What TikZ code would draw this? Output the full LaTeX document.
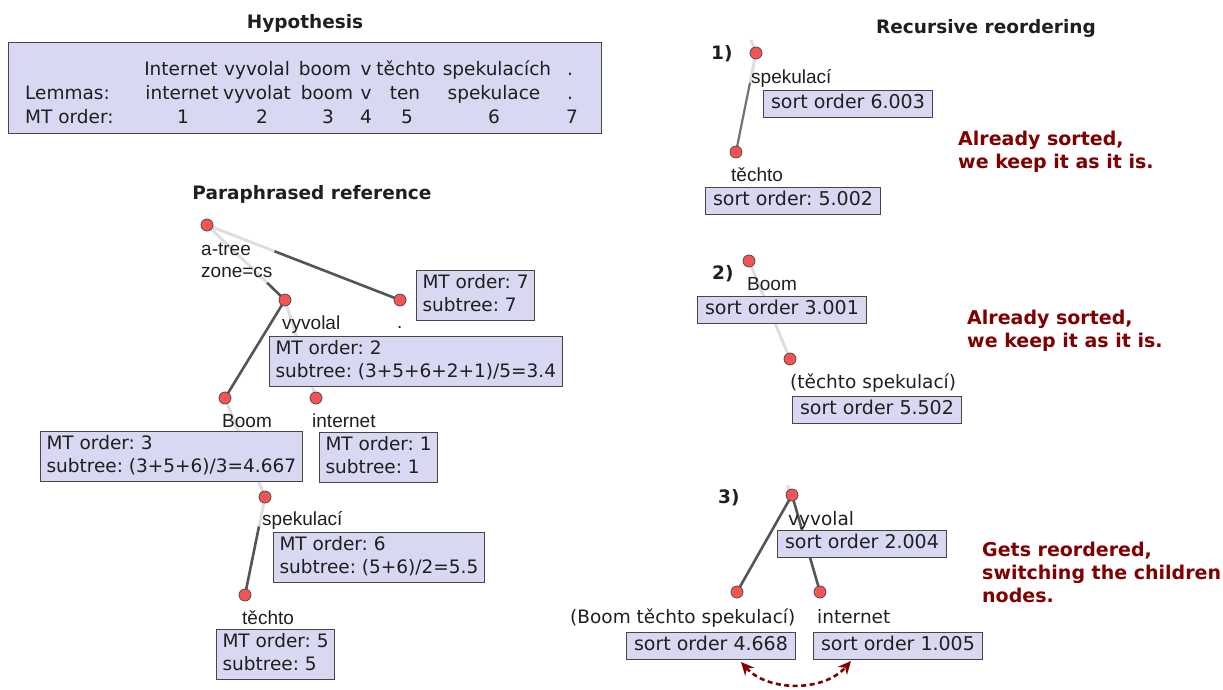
\documentclass[tikz,border=0pt]{standalone}
\usepackage{fontspec}
\setmainfont{DejaVu Sans}
\newfontfamily\arialf{Liberation Sans}
\usetikzlibrary{calc,arrows.meta}
\definecolor{boxfill}{RGB}{216,216,242}
\definecolor{boxline}{RGB}{70,70,70}
\definecolor{nodefill}{RGB}{246,84,84}
\definecolor{darkred}{RGB}{128,0,0}
\definecolor{edgedk}{RGB}{85,85,85}
\definecolor{edgelt}{RGB}{222,222,222}
\newcommand{\mysz}{\fontsize{18.5}{23}\selectfont}
\newcommand{\sortsz}{\fontsize{19}{23}\selectfont}
\newcommand{\lblsz}{\fontsize{19}{23}\selectfont}
\newcommand{\redsz}{\fontsize{19}{23}\selectfont}
\newcommand{\sst}{\rule[-4.5pt]{0pt}{18.5pt}}
\frenchspacing
\begin{document}
\begin{tikzpicture}[x=1pt,y=-1pt,
  every node/.style={inner sep=0pt, text=black!88},
  tnode/.style={circle, draw=black!70, line width=0.8pt, fill=nodefill, minimum size=12pt, inner sep=0pt},
  infobox/.style={draw=boxline, line width=1pt, fill=boxfill, inner xsep=6pt, inner ysep=4pt, align=left, anchor=north west, font=\mysz},
  sortbox/.style={infobox, inner xsep=7.5pt, font=\sortsz},
  lblL/.style={font=\arialf\lblsz, anchor=base west},
  lblR/.style={font=\mysz, anchor=base west},
  ttl/.style={font=\bfseries\mysz, anchor=base},
  steplbl/.style={font=\bfseries\mysz, anchor=base west},
  hyptxt/.style={font=\mysz, anchor=base},
  redtxt/.style={font=\bfseries\redsz, text=darkred, align=left, anchor=north west},
  elight/.style={draw=edgelt, line width=3pt},
  edark/.style={draw=edgedk, line width=2.6pt},
  emid/.style={draw=black!55, line width=2.2pt}
]
\useasboundingbox (0,0) rectangle (1223,689);

% ---------------- Hypothesis ----------------
\node[ttl] (thyp) at (305,28) {Hypothesis};
\node[draw=boxline, line width=1pt, fill=boxfill, minimum width=593pt, minimum height=91pt, anchor=north west] (hyp) at (8,42) {};
\node[hyptxt] (h1) at (181,75) {Internet};
\node[hyptxt] (h2) at (257,75) {vyvolal};
\node[hyptxt] (h3) at (325,75) {boom};
\node[hyptxt] (h4) at (366,75) {v};
\node[hyptxt] (h5) at (406,75) {těchto};
\node[hyptxt] (h6) at (497,75) {spekulacích};
\node[hyptxt] (h7) at (570,75) {.};
\node[hyptxt, anchor=base west] (l0) at (25,99) {Lemmas:};
\node[hyptxt] (l1) at (182,99) {internet};
\node[hyptxt] (l2) at (257,99) {vyvolat};
\node[hyptxt] (l3) at (327,99) {boom};
\node[hyptxt] (l4) at (366,99) {v};
\node[hyptxt] (l5) at (405,99) {ten};
\node[hyptxt] (l6) at (494,99) {spekulace};
\node[hyptxt] (l7) at (570,99) {.};
\node[hyptxt, anchor=base west] (m0) at (25,123) {MT order:};
\node[hyptxt] (m1) at (183,123) {1};
\node[hyptxt] (m2) at (262,123) {2};
\node[hyptxt] (m3) at (328,123) {3};
\node[hyptxt] (m4) at (366,123) {4};
\node[hyptxt] (m5) at (407,123) {5};
\node[hyptxt] (m6) at (494,123) {6};
\node[hyptxt] (m7) at (572,123) {7};

% ---------------- Paraphrased reference ----------------
\node[ttl] (tpar) at (312,199) {Paraphrased reference};

\coordinate (pr) at (207,225);
\coordinate (pdot) at (400,300);
\coordinate (pvyv) at (285,300);
\coordinate (pboom) at (225,398);
\coordinate (pint) at (316,398);
\coordinate (pspek) at (265,497);
\coordinate (ptech) at (245,595);

% edges
\draw[elight] (pr) -- ($(pr)!0.35!(pdot)$);
\draw[edark] ($(pr)!0.35!(pdot)$) -- (pdot);
\draw[elight] (pr) -- ($(pr)!0.77!(pvyv)$);
\draw[edark] ($(pr)!0.77!(pvyv)$) -- (pvyv);
\draw[edark] (pvyv) -- (pboom);
\draw[elight] (pvyv) -- (pint);
\draw[elight] (pboom) -- (pspek);
\draw[elight] (pspek) -- ($(pspek)!0.3!(ptech)$);
\draw[edark] ($(pspek)!0.3!(ptech)$) -- (ptech);

\node[tnode] (nr) at (pr) {};
\node[tnode] (ndot) at (pdot) {};
\node[tnode] (nvyv) at (pvyv) {};
\node[tnode] (nboom) at (pboom) {};
\node[tnode] (nint) at (pint) {};
\node[tnode] (nspek) at (pspek) {};
\node[tnode] (ntech) at (ptech) {};

\node[lblL] (la1) at (201,255) {a-tree};
\node[lblL] (la2) at (201,277) {zone=cs};
\node[lblL] (ldot) at (397,328) {.};
\node[lblL] (lvyv) at (282,329) {vyvolal};
\node[lblL] (lboom) at (222,427) {Boom};
\node[lblL] (lint) at (312,427) {internet};
\node[lblL] (lspek) at (262,525) {spekulací};
\node[lblL] (ltech) at (242,624) {těchto};

\node[infobox] (b7) at (416,270) {\sst MT order: 7\\\sst subtree: 7};
\node[infobox] (b2) at (269,336) {\sst MT order: 2\\\sst subtree: (3+5+6+2+1)/5=3.4};
\node[infobox] (b3) at (40,431) {\sst MT order: 3\\\sst subtree: (3+5+6)/3=4.667};
\node[infobox] (b1) at (319,432) {\sst MT order: 1\\\sst subtree: 1};
\node[infobox] (b6) at (273,532) {\sst MT order: 6\\\sst subtree: (5+6)/2=5.5};
\node[infobox] (b5) at (216,629) {\sst MT order: 5\\\sst subtree: 5};

% ---------------- Recursive reordering ----------------
\node[ttl] (trec) at (986,33) {Recursive reordering};

% step 1
\coordinate (q1a) at (756,53);
\coordinate (q1b) at (736,152);
\coordinate (q1s) at (751,40);
\draw[elight] (q1s) -- (q1a);
\draw[elight] (q1a) -- ($(q1a)!0.3!(q1b)$);
\draw[emid] ($(q1a)!0.3!(q1b)$) -- (q1b);
\node[tnode] (n1a) at (q1a) {};
\node[tnode] (n1b) at (q1b) {};
\node[steplbl] (st1) at (711,59) {1)};
\node[lblL] (l1a) at (751,83) {spekulací};
\node[lblL] (l1b) at (731,181) {těchto};
\node[sortbox] (s1a) at (763,90) {\sst sort order 6.003};
\node[sortbox] (s1b) at (705,187) {\sst sort order: 5.002};
\node[redtxt] (r1) at (958,131) {Already sorted,\\we keep it as it is.};

% step 2
\coordinate (q2a) at (749,261);
\coordinate (q2b) at (790,359);
\draw[elight] (q2a) -- (q2b);
\node[tnode] (n2a) at (q2a) {};
\node[tnode] (n2b) at (q2b) {};
\node[steplbl] (st2) at (712,279) {2)};
\node[lblL] (l2a) at (747,290) {Boom};
\node[lblR] (l2b) at (790,388) {(těchto spekulací)};
\node[sortbox] (s2a) at (697,296) {\sst sort order 3.001};
\node[sortbox] (s2b) at (792,396) {\sst sort order 5.502};
\node[redtxt] (r2) at (967,310) {Already sorted,\\we keep it as it is.};

% step 3
\coordinate (q3a) at (792,495);
\coordinate (q3b) at (737,592);
\coordinate (q3c) at (820,592);
\coordinate (q3s) at (787,485);
\draw[elight] (q3s) -- (q3a);
\draw[edark] (q3a) -- (q3b);
\draw[edark] (q3a) -- (q3c);
\node[tnode] (n3a) at (q3a) {};
\node[tnode] (n3b) at (q3b) {};
\node[tnode] (n3c) at (q3c) {};
\node[steplbl] (st3) at (718,503) {3)};
\node[lblR] (l3a) at (788,525) {vyvolal};
\node[lblR] (l3b) at (570,623) {(Boom těchto spekulací)};
\node[lblR] (l3c) at (817,623) {internet};
\node[sortbox] (s3a) at (777,530) {\sst sort order 2.004};
\node[sortbox] (s3b) at (626,632) {\sst sort order 4.668};
\node[sortbox] (s3c) at (813,632) {\sst sort order 1.005};
\node[redtxt] (r3) at (982,542) {Gets reordered,\\switching the children\\nodes.};

\coordinate (arA) at (741,662);
\coordinate (arB) at (851,661);
\draw[darkred, line width=2.6pt, dash pattern=on 5pt off 3.5pt,
  {Stealth[length=13pt,width=12pt]}-{Stealth[length=13pt,width=12pt]}]
  (arA) .. controls (768,692) and (824,692) .. (arB);
\end{tikzpicture}
\end{document}
